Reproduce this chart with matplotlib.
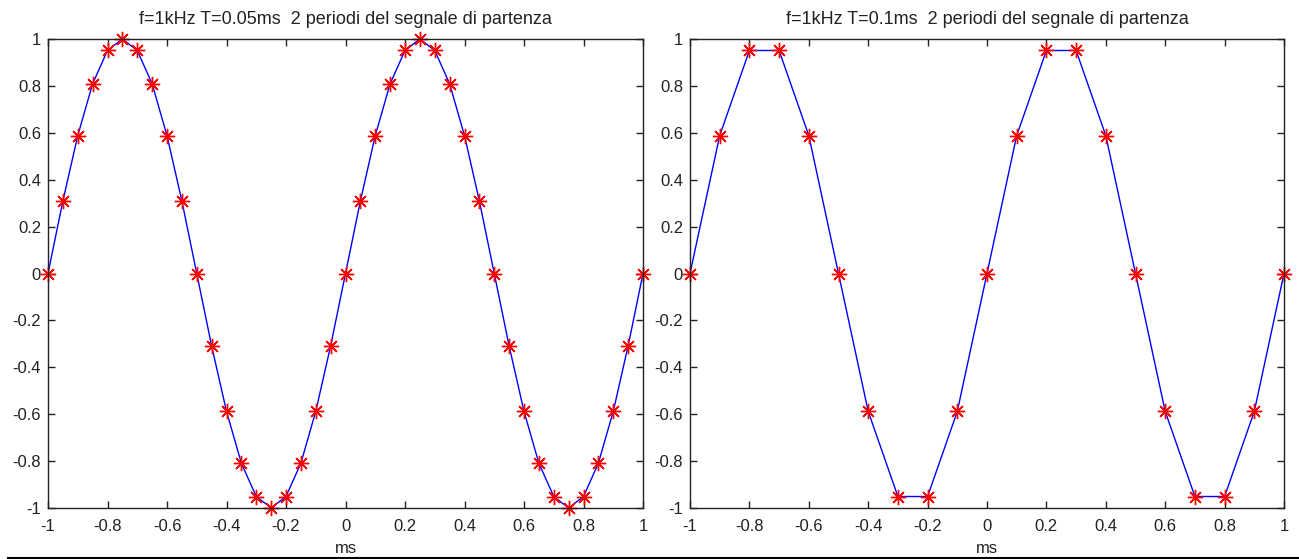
import matplotlib
matplotlib.use("Agg")
import matplotlib.pyplot as plt
from matplotlib.lines import Line2D

plt.rcParams['font.family'] = ['Liberation Sans', 'DejaVu Sans']

# left panel: T = 0.05 ms sampling
t1 = [-1.0, -0.95, -0.9, -0.85, -0.8, -0.75, -0.7, -0.65, -0.6, -0.55, -0.5,
      -0.45, -0.4, -0.35, -0.3, -0.25, -0.2, -0.15, -0.1, -0.05, 0.0,
      0.05, 0.1, 0.15, 0.2, 0.25, 0.3, 0.35, 0.4, 0.45, 0.5,
      0.55, 0.6, 0.65, 0.7, 0.75, 0.8, 0.85, 0.9, 0.95, 1.0]
y1 = [0.0, 0.309, 0.588, 0.809, 0.951, 1.0, 0.951, 0.809, 0.588, 0.309, 0.0,
      -0.309, -0.588, -0.809, -0.951, -1.0, -0.951, -0.809, -0.588, -0.309, 0.0,
      0.309, 0.588, 0.809, 0.951, 1.0, 0.951, 0.809, 0.588, 0.309, 0.0,
      -0.309, -0.588, -0.809, -0.951, -1.0, -0.951, -0.809, -0.588, -0.309, 0.0]

# right panel: T = 0.1 ms sampling
t2 = [-1.0, -0.9, -0.8, -0.7, -0.6, -0.5, -0.4, -0.3, -0.2, -0.1, 0.0,
      0.1, 0.2, 0.3, 0.4, 0.5, 0.6, 0.7, 0.8, 0.9, 1.0]
y2 = [0.0, 0.588, 0.951, 0.951, 0.588, 0.0, -0.588, -0.951, -0.951, -0.588, 0.0,
      0.588, 0.951, 0.951, 0.588, 0.0, -0.588, -0.951, -0.951, -0.588, 0.0]

titles = ['f=1kHz T=0.05ms  2 periodi del segnale di partenza',
          'f=1kHz T=0.1ms  2 periodi del segnale di partenza']
xticks = [-1, -0.8, -0.6, -0.4, -0.2, 0, 0.2, 0.4, 0.6, 0.8, 1]
yticks = [-1, -0.8, -0.6, -0.4, -0.2, 0, 0.2, 0.4, 0.6, 0.8, 1]

def lab(v):
    return '0' if v == 0 else ('%g' % v)

W, H = 1299, 559
fig = plt.figure(figsize=(W / 100, H / 100), dpi=100)
boxes = [(48, 39, 643, 508), (690, 39, 1284, 508)]

for (x0, y0, x1, yb), t, y, title in zip(boxes, [t1, t2], [y1, y2], titles):
    ax = fig.add_axes([x0 / W, 1 - yb / H, (x1 - x0) / W, (yb - y0) / H])
    ax.plot(t, y, color='blue', lw=1)
    # MATLAB-style '*' marker: 8-armed asterisk
    ax.plot(t, y, ls='none', marker=(8, 2, 0), color='red', ms=11, mew=1.0,
            clip_on=False)
    ax.set_xlim(-1, 1)
    ax.set_ylim(-1, 1)
    ax.set_xticks(xticks)
    ax.set_xticklabels([lab(v) for v in xticks])
    ax.set_yticks(yticks)
    ax.set_yticklabels([lab(v) for v in yticks])
    ax.tick_params(direction='in', length=5, width=1, top=True, right=True,
                   labelsize=12, colors='#222222')
    ax.tick_params(axis='x', pad=8)
    ax.tick_params(axis='y', pad=5)
    for s in ax.spines.values():
        s.set_linewidth(1)
        s.set_color('#222222')
    ax.set_title(title, fontsize=13, pad=11, color='#222222')
    ax.set_xlabel('ms', fontsize=12, labelpad=5, color='#222222')

fig.add_artist(Line2D([8 / W, 1 - 0.5 / W], [1 - 557.5 / H, 1 - 557.5 / H],
                      color='black', lw=1.5, transform=fig.transFigure))

fig.savefig('out.png', dpi=100)
